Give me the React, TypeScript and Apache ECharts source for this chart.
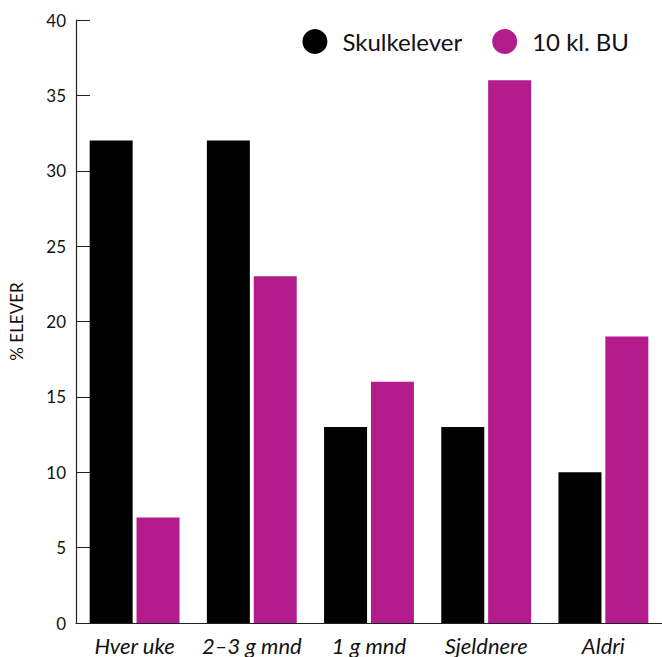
import React, { useEffect, useRef } from "react";
import * as echarts from "echarts";

const categories = ["Hver uke", "2–3 g mnd", "1 g mnd", "Sjeldnere", "Aldri"];
const skulkelever = [32, 32, 13, 13, 10];
const bu10 = [7, 23, 16, 36, 19];
const seriesNames = ["Skulkelever", "10 kl. BU"];

export default function App() {
  const ref = useRef<HTMLDivElement>(null);
  useEffect(() => {
    if (!ref.current) return;
    const chart = echarts.init(ref.current, null, { renderer: "svg" });
    const font = "Lato, 'Open Sans', sans-serif";
    chart.setOption({
      animation: false,
      textStyle: { fontFamily: font },
      grid: { left: 75, right: 0, top: 20, bottom: 34, containLabel: false },
      legend: {
        top: 24,
        right: 28,
        itemWidth: 25,
        itemHeight: 25,
        itemGap: 30,
        icon: "circle",
        textStyle: { fontSize: 24, color: "#111", fontFamily: font, padding: [0, 0, 0, 10] },
        data: seriesNames,
      },
      xAxis: {
        type: "category",
        data: categories,
        axisLine: { lineStyle: { color: "#222", width: 1.2 } },
        axisTick: { inside: true, length: 15, lineStyle: { color: "#444" } },
        axisLabel: {
          interval: 0,
          fontSize: 22,
          fontStyle: "italic",
          color: "#111",
          margin: 11,
          fontFamily: font,
        },
      },
      yAxis: {
        type: "value",
        min: 0,
        max: 40,
        interval: 5,
        name: "% ELEVER",
        nameLocation: "middle",
        nameRotate: 90,
        nameGap: 51,
        nameTextStyle: { fontSize: 17, color: "#111", fontFamily: font },
        axisLine: { show: true, lineStyle: { color: "#222", width: 1.2 } },
        axisTick: { show: true, inside: true, length: 14, lineStyle: { color: "#222" } },
        axisLabel: { fontSize: 17, color: "#111", margin: 10, fontFamily: font },
        splitLine: { show: false },
      },
      series: [
        {
          name: seriesNames[0],
          type: "bar",
          data: skulkelever,
          barWidth: 43,
          barGap: "9%",
          itemStyle: { color: "#000000" },
        },
        {
          name: seriesNames[1],
          type: "bar",
          data: bu10,
          barWidth: 43,
          itemStyle: { color: "#B41B8C" },
        },
      ],
    });
    return () => chart.dispose();
  }, []);
  return <div ref={ref} style={{ width: 662, height: 657, position: "absolute", left: 0, top: 0 }} />;
}
